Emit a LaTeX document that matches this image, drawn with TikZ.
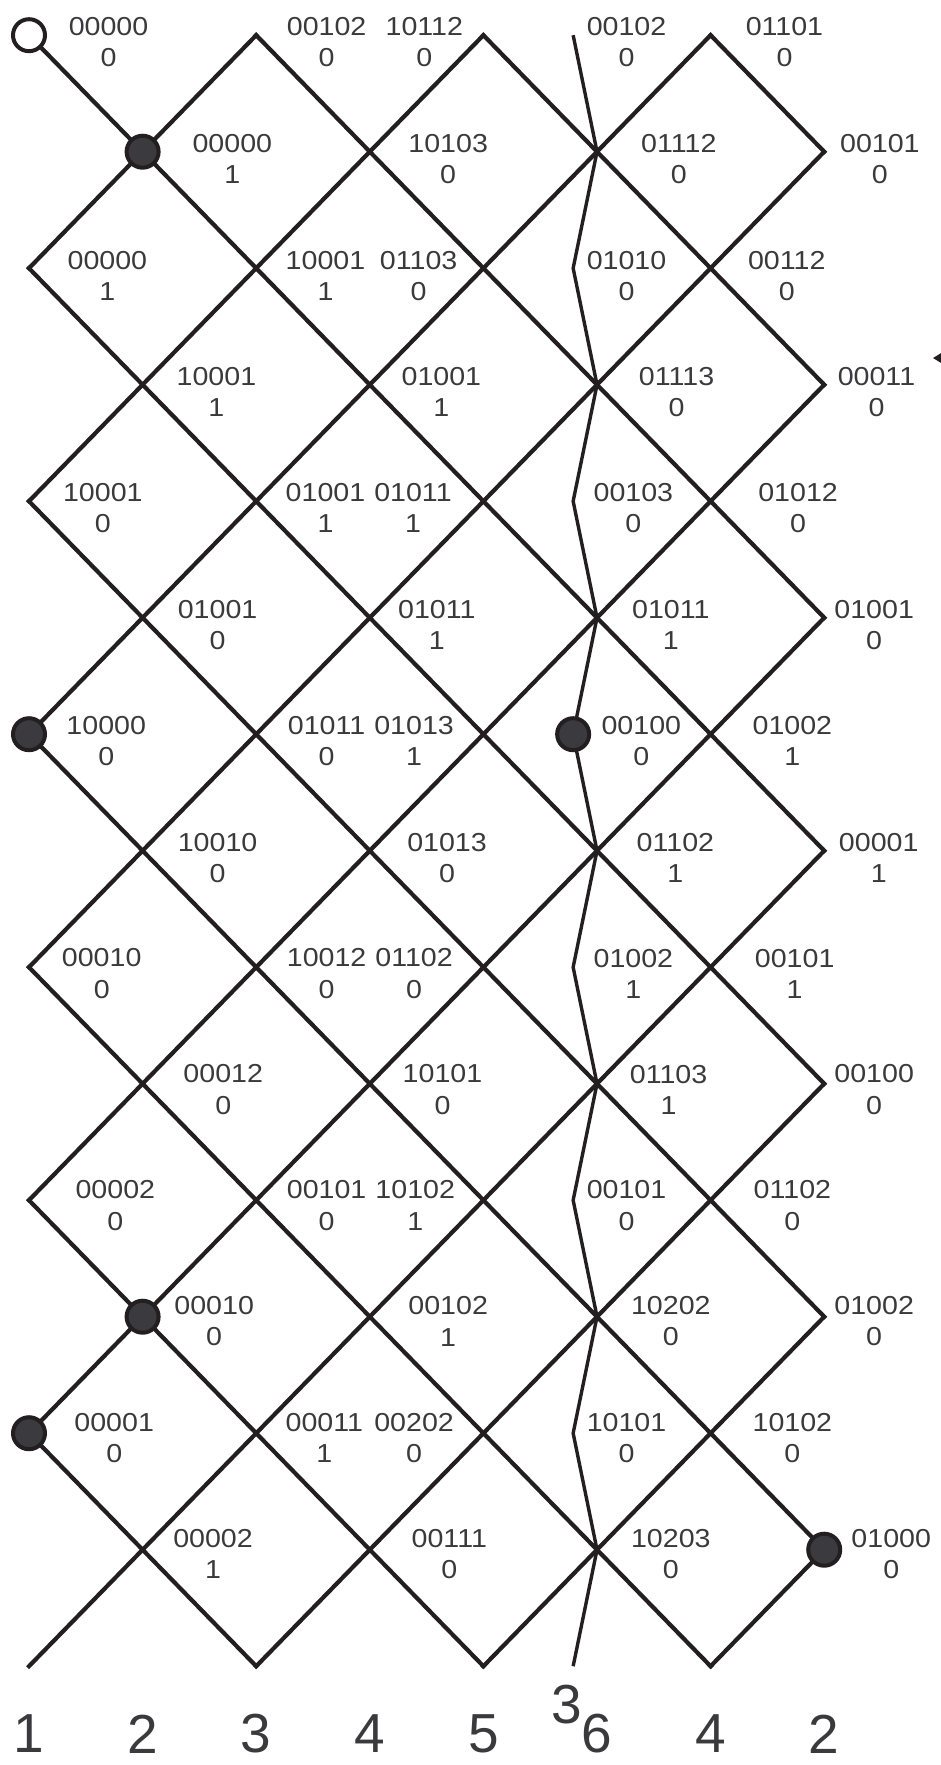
\documentclass[tikz,border=0pt]{standalone}
\usepackage{fontspec}
\setmainfont{Liberation Sans}
\newfontfamily\lblfont[FakeStretch=1.1]{Liberation Sans}
\usetikzlibrary{calc}

\definecolor{linec}{HTML}{231F20}
\definecolor{textc}{HTML}{3A3A3C}
\definecolor{dotc}{HTML}{3A3A3F}

\begin{document}
\begin{tikzpicture}[x=56.8pt, y=-58.25pt]
\tikzset{
  lattice/.style={draw=linec, line width=2.1pt, line cap=rect},
  cutline/.style={draw=linec, line width=1.7pt},
  fullstate/.style={circle, draw=linec, fill=dotc, line width=2pt, minimum size=16pt, inner sep=0pt},
  openstate/.style={fullstate, fill=white},
  lbl/.style={align=center, inner sep=0pt, text=textc, font=\lblfont\fontsize{13}{15.6}\selectfont},
  colnum/.style={inner sep=0pt, text=textc, font=\fontsize{27.5}{30}\selectfont},
}
\useasboundingbox (-0.2553,-0.3021) rectangle (8.0194,14.848);

% lattice points
\foreach \i in {0,...,7}
  \foreach \j in {0,...,14}
    \coordinate (p\i-\j) at (\i,\j);

% down-right lines
\foreach \a/\b in {0-12/2-14, 0-10/4-14, 0-8/6-14, 0-6/7-13, 0-4/7-11,
                   0-2/7-9, 0-0/7-7, 2-0/7-5, 4-0/7-3, 6-0/7-1}
  \draw[lattice] (p\a) -- (p\b);
% up-right lines
\foreach \a/\b in {0-2/2-0, 0-4/4-0, 0-6/6-0, 0-8/7-1, 0-10/7-3,
                   0-12/7-5, 0-14/7-7, 2-14/7-9, 4-14/7-11, 6-14/7-13}
  \draw[lattice] (p\a) -- (p\b);

% zigzag cut
\foreach \j in {0,2,...,14}
  \coordinate (z\j) at (4.79,\j);
\foreach \j in {1,3,...,13}
  \coordinate (z\j) at (5,\j);
\draw[cutline] (z0) \foreach \j in {1,...,14} { -- (z\j) };

% partial arrow tip at the edge
\fill[linec] (7.958,2.771) -- (8.03,2.728) -- (8.03,2.814) -- cycle;

% states
\node[openstate] (s0) at (p0-0) {};
\node[fullstate] (s1) at (p1-1) {};
\node[fullstate] (s2) at (p0-6) {};
\node[fullstate] (s3) at (z6) {};
\node[fullstate] (s4) at (p1-11) {};
\node[fullstate] (s5) at (p0-12) {};
\node[fullstate] (s6) at (p7-13) {};

% labels, one row per level
\foreach \x/\a/\b [count=\k] in {0.70/00000/0, 2.62/00102/0, 3.48/10112/0, 5.26/00102/0, 6.65/01101/0}
  \node[lbl] (r0-\k) at (\x,0.06) {\a\\\b};
\foreach \x/\a/\b [count=\k] in {1.79/00000/1, 3.69/10103/0, 5.72/01112/0, 7.49/00101/0}
  \node[lbl] (r1-\k) at (\x,1.065) {\a\\\b};
\foreach \x/\a/\b [count=\k] in {0.69/00000/1, 2.61/10001/1, 3.43/01103/0, 5.26/01010/0, 6.67/00112/0}
  \node[lbl] (r2-\k) at (\x,2.065) {\a\\\b};
\foreach \x/\a/\b [count=\k] in {1.65/10001/1, 3.63/01001/1, 5.70/01113/0, 7.46/00011/0}
  \node[lbl] (r3-\k) at (\x,3.06) {\a\\\b};
\foreach \x/\a/\b [count=\k] in {0.65/10001/0, 2.61/01001/1, 3.38/01011/1, 5.32/00103/0, 6.77/01012/0}
  \node[lbl] (r4-\k) at (\x,4.06) {\a\\\b};
\foreach \x/\a/\b [count=\k] in {1.66/01001/0, 3.59/01011/1, 5.65/01011/1, 7.44/01001/0}
  \node[lbl] (r5-\k) at (\x,5.06) {\a\\\b};
\foreach \x/\a/\b [count=\k] in {0.68/10000/0, 2.62/01011/0, 3.39/01013/1, 5.39/00100/0, 6.72/01002/1}
  \node[lbl] (r6-\k) at (\x,6.06) {\a\\\b};
\foreach \x/\a/\b [count=\k] in {1.66/10010/0, 3.68/01013/0, 5.69/01102/1, 7.48/00001/1}
  \node[lbl] (r7-\k) at (\x,7.06) {\a\\\b};
\foreach \x/\a/\b [count=\k] in {0.64/00010/0, 2.62/10012/0, 3.39/01102/0, 5.32/01002/1, 6.74/00101/1}
  \node[lbl] (r8-\k) at (\x,8.055) {\a\\\b};
\foreach \x/\a/\b [count=\k] in {1.71/00012/0, 3.64/10101/0, 5.63/01103/1, 7.44/00100/0}
  \node[lbl] (r9-\k) at (\x,9.05) {\a\\\b};
\foreach \x/\a/\b [count=\k] in {0.76/00002/0, 2.62/00101/0, 3.40/10102/1, 5.26/00101/0, 6.72/01102/0}
  \node[lbl] (r10-\k) at (\x,10.045) {\a\\\b};
\foreach \x/\a/\b [count=\k] in {1.63/00010/0, 3.69/00102/1, 5.65/10202/0, 7.44/01002/0}
  \node[lbl] (r11-\k) at (\x,11.04) {\a\\\b};
\foreach \x/\a/\b [count=\k] in {0.75/00001/0, 2.60/00011/1, 3.39/00202/0, 5.26/10101/0, 6.72/10102/0}
  \node[lbl] (r12-\k) at (\x,12.04) {\a\\\b};
\foreach \x/\a/\b [count=\k] in {1.62/00002/1, 3.70/00111/0, 5.65/10203/0, 7.59/01000/0}
  \node[lbl] (r13-\k) at (\x,13.035) {\a\\\b};

% column numbers
\foreach \n [count=\k from 0] in {1,2,3,4,5,6,4,2}
  \node[colnum] (c\k) at (\k,14.58) {\n};
\node[colnum] (cx) at (4.73,14.33) {3};

\end{tikzpicture}
\end{document}
